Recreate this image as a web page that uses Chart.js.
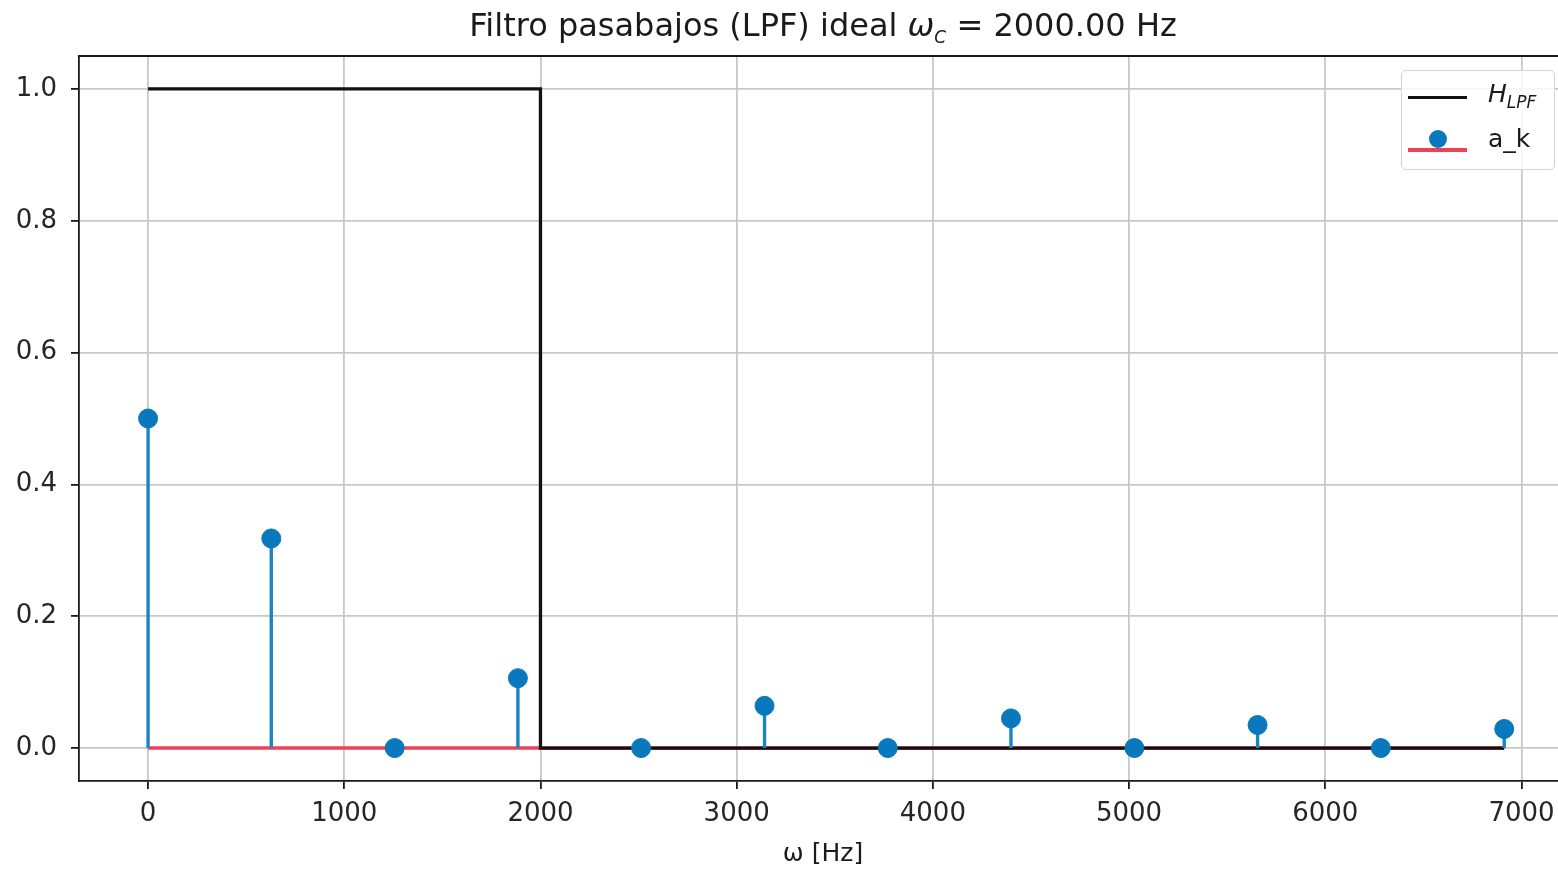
<!DOCTYPE html>
<html>
<head>
<meta charset="utf-8">
<script src="https://cdn.jsdelivr.net/npm/chart.js@4.4.1/dist/chart.umd.min.js"></script>
<style>
  body { margin: 0; background: #fff; overflow: hidden; font-family: "DejaVu Sans", sans-serif; }
  #wrap { position: relative; width: 1558px; height: 873px; overflow: hidden; }
  #titulo { position: absolute; top: 6px; left: 79px; width: 1488px; text-align: center; font-size: 32px; color: #1a1a1a; white-space: nowrap; }
  #leyenda { position: absolute; left: 1401px; top: 70px; width: 152px; height: 98px; border: 1.5px solid #d4d4d4; border-radius: 5px; background: rgba(255,255,255,0.85); font-size: 25px; color: #1a1a1a; }
  .item { position: absolute; left: 0; width: 100%; height: 40px; }
  .muestra { position: absolute; left: 6px; width: 59px; }
  .txt { position: absolute; left: 86px; }
  sub { font-size: 17px; }
</style>
</head>
<body>
<div id="wrap">
  <!-- el canvas es mas ancho que la ventana: el eje sigue fuera de la imagen -->
  <canvas id="grafico" width="1580" height="873"></canvas>
  <div id="titulo">Filtro pasabajos (LPF) ideal <i>ω</i><sub><i>C</i></sub> = 2000.00 Hz</div>
  <div id="leyenda">
    <div class="item" style="top:6px">
      <div class="muestra" style="top:19px;height:3px;background:#111"></div>
      <div class="txt" style="top:2px"><i>H</i><sub><i>LPF</i></sub></div>
    </div>
    <div class="item" style="top:56px">
      <div class="muestra" style="top:21px;height:4px;background:#ee4056"></div>
      <div style="position:absolute;left:27px;top:3px;width:18px;height:18px;border-radius:50%;background:#0a78bd"></div>
      <div class="txt" style="top:-3px">a_k</div>
    </div>
  </div>
</div>
<script>
// frecuencias de los armonicos (Hz) y coeficientes a_k
const omegaK = [0, 628, 1257, 1885, 2513, 3142, 3770, 4398, 5027, 5655, 6283, 6912];
const aK = [0.5, 0.318, 0, 0.106, 0, 0.064, 0, 0.045, 0, 0.035, 0, 0.029];

// respuesta del filtro ideal
const filtroW = [0, 2000, 2000, 6912];
const filtroH = [1, 1, 0, 0];

// ticks de los ejes
const ticksX = [0, 1000, 2000, 3000, 4000, 5000, 6000, 7000];
const ticksY = [0, 0.2, 0.4, 0.6, 0.8, 1.0];

const azul = '#0a78bd';
const rojo = '#ee4056';
const fuente = { family: 'DejaVu Sans', size: 26 };

// puntos de los tallos: (w,0) -> (w,a), separados con null
let tallos = [];
omegaK.forEach((w, i) => {
    tallos.push({ x: w, y: 0 });
    tallos.push({ x: w, y: aK[i] });
    tallos.push({ x: w, y: null });
});

// linea base de los tallos
const base = [{ x: omegaK[0], y: 0 }, { x: omegaK[omegaK.length - 1], y: 0 }];

// borde superior del eje (como en matplotlib)
const bordeArriba = {
    id: 'bordeArriba',
    afterDraw(chart) {
        const a = chart.chartArea;
        const ctx = chart.ctx;
        ctx.save();
        ctx.strokeStyle = '#1a1a1a';
        ctx.lineWidth = 1.8;
        ctx.beginPath();
        ctx.moveTo(a.left - 0.9, a.top);
        ctx.lineTo(a.right, a.top);
        ctx.stroke();
        ctx.restore();
    }
};

new Chart(document.getElementById('grafico'), {
    type: 'scatter',
    data: {
        datasets: [
            {
                label: 'a_k',
                data: omegaK.map((w, i) => ({ x: w, y: aK[i] })),
                backgroundColor: azul,
                borderColor: azul,
                pointRadius: 9.5,
                pointHoverRadius: 9.5,
                order: 0
            },
            {
                label: 'tallos',
                data: tallos,
                showLine: true,
                spanGaps: false,
                borderColor: '#1d84c2',
                borderWidth: 3.4,
                pointRadius: 0,
                order: 1
            },
            {
                label: 'H_LPF',
                data: filtroW.map((w, i) => ({ x: w, y: filtroH[i] })),
                showLine: true,
                borderColor: '#111',
                borderWidth: 3.3,
                pointRadius: 0,
                order: 2
            },
            {
                label: 'base',
                data: base,
                showLine: true,
                borderColor: rojo,
                borderWidth: 3.6,
                pointRadius: 0,
                order: 3
            }
        ]
    },
    options: {
        responsive: false,
        animation: false,
        events: [],
        layout: { autoPadding: false, padding: { top: 56, right: 13, left: 0, bottom: 0 } },
        plugins: {
            legend: { display: false },
            tooltip: { enabled: false }
        },
        scales: {
            x: {
                type: 'linear',
                min: -352,
                max: 7232,
                afterFit: (s) => { s.height = 92; s.paddingLeft = 0; s.paddingRight = 0; },
                afterBuildTicks: (s) => { s.ticks = ticksX.map(v => ({ value: v })); },
                ticks: { font: fuente, color: '#262626', padding: 10, maxRotation: 0, callback: (v) => String(v) },
                grid: { color: '#c8c8c8', lineWidth: 1.8, tickLength: 8, tickColor: '#1a1a1a' },
                border: { color: '#1a1a1a', width: 1.8 },
                title: { display: true, text: 'ω [Hz]', font: { family: 'DejaVu Sans', size: 25 }, color: '#1a1a1a', padding: { top: 0, bottom: 4 } }
            },
            y: {
                min: -0.05,
                max: 1.05,
                afterFit: (s) => { s.width = 79; s.paddingTop = 0; s.paddingBottom = 0; },
                afterBuildTicks: (s) => { s.ticks = ticksY.map(v => ({ value: v })); },
                ticks: { font: fuente, color: '#262626', padding: 14, callback: (v) => v.toFixed(1) },
                grid: { color: '#c8c8c8', lineWidth: 1.8, tickLength: 8, tickColor: '#1a1a1a' },
                border: { color: '#1a1a1a', width: 1.8 }
            }
        }
    },
    plugins: [bordeArriba]
});
</script>
</body>
</html>
